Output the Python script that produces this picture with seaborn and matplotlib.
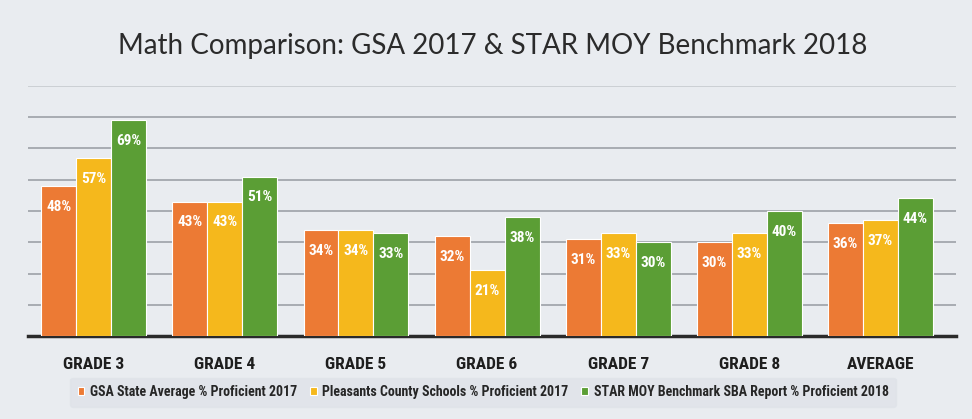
import matplotlib
matplotlib.use("Agg")
import matplotlib.pyplot as plt
from matplotlib import font_manager
import seaborn as sns
import pandas as pd

# Datos
grados = ['GRADE 3', 'GRADE 4', 'GRADE 5', 'GRADE 6', 'GRADE 7', 'GRADE 8', 'AVERAGE']
series = ['GSA State Average % Proficient 2017',
          'Pleasants County Schools % Proficient 2017',
          'STAR MOY Benchmark SBA Report % Proficient 2018']
gsa_2017 = [48, 43, 34, 32, 31, 30, 36]
pleasants_2017 = [57, 43, 34, 21, 33, 33, 37]
star_2018 = [69, 51, 33, 38, 30, 40, 44]

colores = ['#EC7A34', '#F5B81C', '#5B9E35']
fondo = '#E9ECF0'

df = pd.DataFrame({
    'Grado': grados * 3,
    'Serie': [series[0]] * 7 + [series[1]] * 7 + [series[2]] * 7,
    'Valor': gsa_2017 + pleasants_2017 + star_2018,
})

# fuente estrecha si existe
disponibles = sorted({f.name for f in font_manager.fontManager.ttflist})
estrecha = 'Lato'
for nombre in ['Liberation Sans Narrow', 'DejaVu Sans Condensed', 'Roboto Condensed',
               'Open Sans Condensed', 'Noto Sans Condensed']:
    if nombre in disponibles:
        estrecha = nombre
        break

sns.set_theme(style="white")
plt.rcParams['font.family'] = [estrecha, 'DejaVu Sans']

fig = plt.figure(figsize=(9.72, 4.19), dpi=100, facecolor=fondo)
ax = fig.add_axes([0.029, 0.198, 0.955, 0.597], facecolor=fondo)

sns.barplot(data=df, x='Grado', y='Valor', hue='Serie', order=grados,
            hue_order=series, palette=colores, width=0.8, ax=ax,
            edgecolor='white', linewidth=0.8, saturation=1, legend=True,
            zorder=3)

ax.set_ylim(0, 80)
ax.set_xlim(-0.5, 6.58)
ax.set_yticks(range(10, 81, 10))
ax.yaxis.grid(True, color='#A3A7AD', linewidth=1.3, zorder=0)
ax.get_ygridlines()[-1].set_color('#C9CDD2')
ax.set_axisbelow(True)
ax.tick_params(axis='y', left=False, labelleft=False)
ax.tick_params(axis='x', bottom=False, pad=9)
for lab in ax.get_xticklabels():
    lab.set_fontweight('bold')
    lab.set_fontsize(12.5)
    lab.set_color('#1E1E1E')
ax.set_xlabel('')
ax.set_ylabel('')
for s in ['top', 'right', 'left']:
    ax.spines[s].set_visible(False)
ax.spines['bottom'].set_color('#2A2A2A')
ax.spines['bottom'].set_linewidth(2.5)

for cont in ax.containers:
    ax.bar_label(cont, labels=[f'{int(v)}%' for v in cont.datavalues],
                 padding=-20, color='white', fontweight='bold', fontsize=11)

fig.suptitle('Math Comparison: GSA 2017 & STAR MOY Benchmark 2018',
             x=0.507, y=0.922, fontsize=20, color='#2B2B2B',
             family=['Lato', 'DejaVu Sans'])

ax.legend(loc='center', bbox_to_anchor=(0.49, -0.225), ncol=3, frameon=True,
          facecolor='#DFE3E9', edgecolor='#DFE3E9',
          handlelength=0.5, handleheight=0.5, handletextpad=0.4,
          columnspacing=0.9, borderpad=0.55, prop={'weight': 'bold', 'size': 10})

fig.savefig('out.png', dpi=100, facecolor=fondo)
